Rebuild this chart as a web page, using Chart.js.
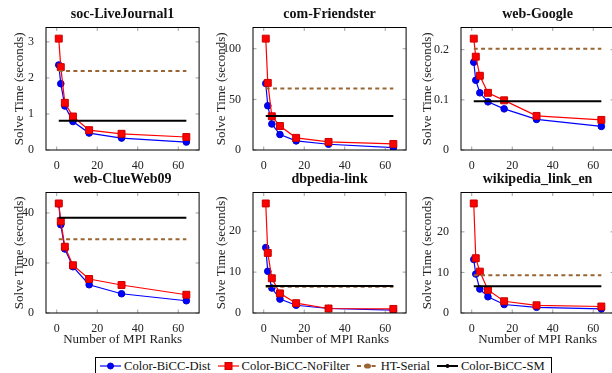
<!DOCTYPE html>
<html>
<head>
<meta charset="utf-8">
<script src="https://cdn.jsdelivr.net/npm/chart.js@4"></script>
<style>
  html, body { margin: 0; padding: 0; background: #fff; }
  #wrap { position: relative; width: 612px; height: 373px; overflow: hidden; }
  #wrap canvas { position: absolute; }
  #legend { position: absolute; left: 95px; top: 357px; width: 457px; height: 19px; box-sizing: border-box;
            border: 1px solid #000; font: 12.6px "Liberation Serif", serif; color: #111;
            display: flex; align-items: flex-start; padding: 1px 0 0 4px; gap: 7px; }
  #legend .item { white-space: nowrap; line-height: 15px; }
  #legend svg { vertical-align: -1px; margin-right: 3px; }
</style>
</head>
<body>
<div id="wrap">
  <div id="legend"></div>
</div>
<script>
// MPI ranks on the x axis
const ranks = [1, 2, 4, 8, 16, 32, 64];
const xTicks = [0, 20, 40, 60];

const graphNames = ['soc-LiveJournal1', 'com-Friendster', 'web-Google',
                    'web-ClueWeb09', 'dbpedia-link', 'wikipedia_link_en'];
const seriesNames = ['Color-BiCC-Dist', 'Color-BiCC-NoFilter', 'HT-Serial', 'Color-BiCC-SM'];

// solve times (seconds), one row per graph
const distTimes = [
  [2.36, 1.84, 1.22, 0.79, 0.47, 0.33, 0.22],
  [65.7, 43.7, 25.7, 15.3, 9.0, 5.7, 2.3],
  [0.175, 0.139, 0.114, 0.096, 0.082, 0.061, 0.047],
  [43.6, 35.3, 25.6, 18.5, 11.3, 7.7, 4.9],
  [16.0, 10.2, 6.1, 3.4, 1.9, 1.1, 0.7],
  [13.2, 9.6, 5.9, 4.0, 2.1, 1.4, 1.0]
];
const noFilterTimes = [
  [3.09, 2.30, 1.31, 0.93, 0.55, 0.45, 0.36],
  [110, 66.3, 33.3, 23.7, 12.0, 8.0, 6.0],
  [0.222, 0.186, 0.148, 0.114, 0.099, 0.068, 0.060],
  [43.8, 36.7, 26.5, 19.1, 13.6, 11.2, 7.3],
  [26.8, 14.7, 8.5, 4.8, 2.4, 1.1, 1.0],
  [27.0, 13.5, 10.2, 5.7, 2.9, 1.9, 1.6]
];
const htSerialTimes = [2.19, 60.7, 0.202, 29.5, 6.4, 9.3];
const smTimes = [0.81, 33.7, 0.097, 38.1, 6.6, 6.6];

const yTicks = [
  [0, 1, 2, 3],
  [0, 50, 100],
  [0, 0.1, 0.2],
  [0, 20, 40],
  [0, 10, 20],
  [0, 10, 20]
];

const fontFamily = '"Liberation Serif", serif';

// panel placement (plot area of each axes)
const plotLefts = [45.5, 252.5, 461];
const rowTops = [27.3, 192.3];
const rowHeights = [122.4, 120.2];
const yTitlePad = [11.5, 7, 4.5];
const plotW = 155, yW = 46, titleH = 27.5;

const framePlugin = {
  id: 'frame',
  afterDraw(chart) {
    const { ctx, chartArea: a, scales } = chart;
    ctx.save();
    ctx.strokeStyle = '#888';
    ctx.lineWidth = 0.8;
    ctx.beginPath();
    scales.x.ticks.forEach(t => {
      const px = scales.x.getPixelForValue(t.value);
      ctx.moveTo(px, a.bottom); ctx.lineTo(px, a.bottom - 3.5);
      ctx.moveTo(px, a.top); ctx.lineTo(px, a.top + 3.5);
    });
    scales.y.ticks.forEach(t => {
      const py = scales.y.getPixelForValue(t.value);
      ctx.moveTo(a.left, py); ctx.lineTo(a.left + 3.5, py);
      ctx.moveTo(a.right, py); ctx.lineTo(a.right - 3.5, py);
    });
    ctx.stroke();
    ctx.strokeStyle = '#000';
    ctx.lineWidth = 1;
    ctx.strokeRect(a.left, a.top, a.right - a.left, a.bottom - a.top);
    ctx.restore();
  }
};

const wrap = document.getElementById('wrap');

graphNames.forEach(function(name, i) {
  const col = i % 3, row = Math.floor(i / 3);
  const bottomH = row ? 36 : 20;
  const canvas = document.createElement('canvas');
  const w = yW + plotW + 4;
  const h = Math.round(titleH + rowHeights[row] + bottomH);
  canvas.width = w; canvas.height = h;
  canvas.style.left = (plotLefts[col] - yW) + 'px';
  canvas.style.top = (rowTops[row] - titleH) + 'px';
  wrap.appendChild(canvas);

  const yMax = 1.1 * Math.max(...noFilterTimes[i], ...distTimes[i], htSerialTimes[i], smTimes[i]);

  new Chart(canvas, {
    type: 'line',
    data: {
      datasets: [{
        label: seriesNames[0],
        data: ranks.map((r, k) => ({ x: r, y: distTimes[i][k] })),
        borderColor: '#0000ff', backgroundColor: '#0000ff', pointBorderColor: '#0000c8',
        borderWidth: 1.2, pointRadius: 3.3, pointBorderWidth: 1, pointStyle: 'circle', order: 3
      }, {
        label: seriesNames[1],
        data: ranks.map((r, k) => ({ x: r, y: noFilterTimes[i][k] })),
        borderColor: '#ff0000', backgroundColor: '#ff0000', pointBorderColor: '#c80000',
        borderWidth: 1.2, pointRadius: 4.9, pointBorderWidth: 1, pointStyle: 'rect', order: 2
      }, {
        label: seriesNames[2],
        data: [{ x: ranks[0], y: htSerialTimes[i] }, { x: ranks[ranks.length - 1], y: htSerialTimes[i] }],
        borderColor: '#996633', borderWidth: 2, borderDash: [4, 3.3], pointRadius: 0, order: 1
      }, {
        label: seriesNames[3],
        data: [{ x: ranks[0], y: smTimes[i] }, { x: ranks[ranks.length - 1], y: smTimes[i] }],
        borderColor: '#000000', borderWidth: 2, pointRadius: 0, order: 0
      }]
    },
    options: {
      responsive: false,
      animation: false,
      devicePixelRatio: 1,
      layout: { padding: { left: 0, right: 4, top: 0, bottom: 0 } },
      plugins: {
        legend: { display: false },
        tooltip: { enabled: false },
        title: {
          display: true, text: name, color: '#111', fullSize: false,
          font: { family: fontFamily, size: 14, weight: 'bold', lineHeight: 1 },
          padding: { top: 7.5, bottom: 6 }
        }
      },
      scales: {
        x: {
          type: 'linear', min: -5.3, max: 70.3,
          afterBuildTicks: s => { s.ticks = xTicks.map(v => ({ value: v })); },
          afterFit: s => { s.height = bottomH; },
          grid: { display: false }, border: { display: false },
          ticks: { font: { family: fontFamily, size: 12 }, color: '#222', padding: 1, maxRotation: 0 },
          title: {
            display: row === 1, text: 'Number of MPI Ranks', color: '#222',
            font: { family: fontFamily, size: 13 }, padding: { top: 0, bottom: 2 }
          }
        },
        y: {
          min: 0, max: yMax,
          afterBuildTicks: s => { s.ticks = yTicks[i].map(v => ({ value: v })); },
          afterFit: s => { s.width = yW; },
          grid: { display: false }, border: { display: false },
          ticks: { font: { family: fontFamily, size: 12 }, color: '#222', padding: 4,
                   callback: v => String(v) },
          title: {
            display: true, text: 'Solve Time (seconds)', color: '#222',
            font: { family: fontFamily, size: 13 }, padding: { top: yTitlePad[col], bottom: 0 }
          }
        }
      }
    },
    plugins: [framePlugin]
  });
});

// legend
const legendIcons = [
  '<line x1="0" y1="5" x2="21" y2="5" stroke="#0000ff" stroke-width="1.2"/><circle cx="10.5" cy="5" r="3" fill="#0000ff" stroke="#0000c8"/>',
  '<line x1="0" y1="5" x2="21" y2="5" stroke="#ff0000" stroke-width="1.2"/><rect x="7" y="1.5" width="7" height="7" fill="#ff0000" stroke="#c80000"/>',
  '<line x1="0" y1="5" x2="21" y2="5" stroke="#996633" stroke-width="2" stroke-dasharray="4 3.3"/><ellipse cx="10.5" cy="5" rx="3.5" ry="2.6" fill="#996633"/>',
  '<line x1="0" y1="5" x2="21" y2="5" stroke="#000" stroke-width="2"/><circle cx="10.5" cy="5" r="2" fill="#000"/>'
];
const legend = document.getElementById('legend');
seriesNames.forEach(function(s, k) {
  const item = document.createElement('span');
  item.className = 'item';
  item.innerHTML = '<svg width="21" height="10">' + legendIcons[k] + '</svg>' + s;
  legend.appendChild(item);
});
</script>
</body>
</html>
